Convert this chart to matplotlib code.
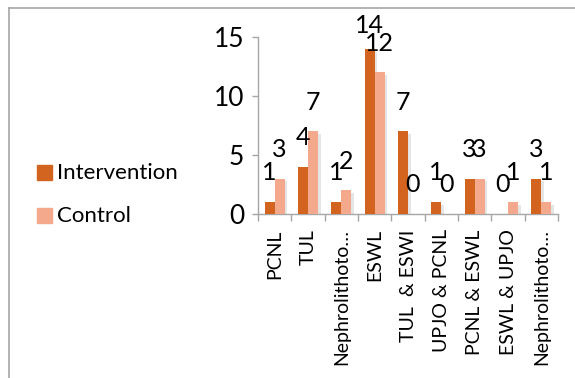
import matplotlib
matplotlib.use("Agg")
import matplotlib.pyplot as plt
from matplotlib import patheffects as pe
from matplotlib.lines import Line2D
from matplotlib.patches import Rectangle
import numpy as np

categories = ["PCNL", "TUL", "Nephrolithoto\u2026", "ESWL", "TUL  & ESWI",
              "UPJO & PCNL", "PCNL & ESWL", "ESWL & UPJO", "Nephrolithoto\u2026"]
intervention = [1, 4, 1, 14, 7, 1, 3, 0, 3]
control = [3, 7, 2, 12, 0, 0, 3, 1, 1]
series_names = ["Intervention", "Control"]
yticks = [0, 5, 10, 15]

plt.rcParams['font.family'] = ['Lato', 'DejaVu Sans']

c_int = "#D2641F"
c_ctl = "#F4A98C"
axis_gray = "#A6A6A6"

fig = plt.figure(figsize=(5.75, 3.78), dpi=100)
ax = fig.add_axes([258/575, 1-214/378, 300/575, 177/378])

x = np.arange(len(categories))
w = 0.3
ymax = 15
shadow = [pe.SimplePatchShadow(offset=(2, -2), shadow_rgbFace="#999999", alpha=0.25), pe.Normal()]
b1 = ax.bar(x - w/2, intervention, w, color=c_int, path_effects=shadow, zorder=3)
b2 = ax.bar(x + w/2, control, w, color=c_ctl, path_effects=shadow, zorder=3)

# value labels sit above each bar, kept inside the plot's top edge
gap = 1.5
for bars, vals in ((b1, intervention), (b2, control)):
    for r, v in zip(bars, vals):
        ax.text(r.get_x() + r.get_width()/2, min(v + gap, ymax), str(v),
                ha="center", va="bottom", fontsize=18, color="black", clip_on=False)

ax.set_xlim(-0.5, len(categories) - 0.5)
ax.set_ylim(0, ymax)
ax.set_yticks(yticks)
ax.tick_params(axis="y", labelsize=19, length=4, color=axis_gray, width=1, pad=6)

ax.set_xticks(np.arange(len(categories) + 1) - 0.5)
ax.set_xticklabels([])
ax.tick_params(axis="x", length=5, color=axis_gray, width=1)
ax.set_xticks(x, minor=True)
ax.set_xticklabels(categories, minor=True, rotation=90, fontsize=14,
                   va="top", ha="center")
ax.tick_params(axis="x", which="minor", length=0, pad=11)

for s in ("top", "right"):
    ax.spines[s].set_visible(False)
for s in ("left", "bottom"):
    ax.spines[s].set_color(axis_gray)
    ax.spines[s].set_linewidth(1)

# legend on the left side
for name, col, yc in ((series_names[0], c_int, 173), (series_names[1], c_ctl, 216)):
    fig.patches.append(Rectangle((37/575, 1-(yc+7)/378), 15/575, 15/378,
                                 transform=fig.transFigure, color=col, figure=fig))
    fig.text(57/575, 1-yc/378, name, fontsize=16, va="center", ha="left")

# chart frame
fig.add_artist(Line2D([9/575, 1], [1-8/378, 1-8/378], color=axis_gray, lw=1.2))
fig.add_artist(Line2D([9/575, 9/575], [0, 1-8/378], color=axis_gray, lw=1.2))

fig.savefig("out.png", dpi=100)
